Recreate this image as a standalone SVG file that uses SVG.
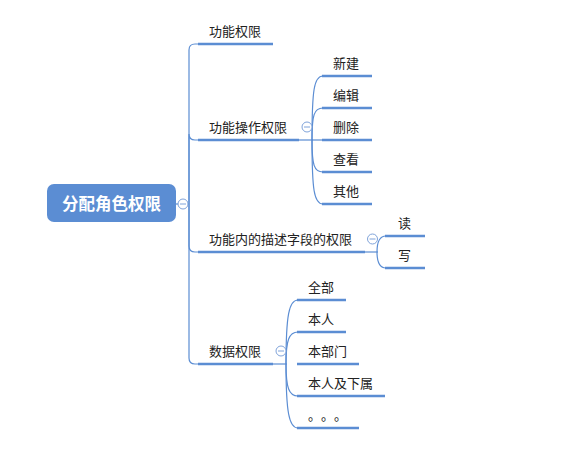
<svg xmlns="http://www.w3.org/2000/svg" width="563" height="458" viewBox="0 0 563 458">
<style>
.t{font-family:"Noto Sans CJK SC","Noto Sans",sans-serif;font-size:13px;fill:#222}
.u{stroke:#5b8dd3;stroke-width:2.5;fill:none}
.c{stroke:#5b8dd3;stroke-width:1.2;fill:none}
.col{fill:#fff;stroke:#7fa3da;stroke-width:1}
.cm{stroke:#7fa3da;stroke-width:1}
</style>
<rect width="563" height="458" fill="#fff"/>
<g id="connectors">
<path class="c" d="M176,204 H189"/>
<path class="c" d="M189,204 V50 Q189,44 195,44 H199"/>
<path class="c" d="M189,204 V134 Q189,140 195,140 H199"/>
<path class="c" d="M189,204 V246 Q189,252 195,252 H199"/>
<path class="c" d="M189,204 V358 Q189,364 195,364 H199"/>
<path class="c" d="M299,140 H313"/>
<path class="c" d="M312,140 C312,90 314,76 323,76"/>
<path class="c" d="M312,140 C312,115 314,108 323,108"/>
<path class="c" d="M312,140 H323"/>
<path class="c" d="M312,140 C312,165 314,172 323,172"/>
<path class="c" d="M312,140 C312,190 314,204 323,204"/>
<path class="c" d="M365,252 H378"/>
<path class="c" d="M377,252 C377,242 380,236 386,236"/>
<path class="c" d="M377,252 C377,262 380,268 386,268"/>
<path class="c" d="M273,364 H287"/>
<path class="c" d="M286,364 C286,315 289,300 298,300"/>
<path class="c" d="M286,364 C286,340 289,332 298,332"/>
<path class="c" d="M286,364 C286,388 289,396 298,396"/>
<path class="c" d="M286,364 C286,412 289,428 298,428"/>
</g>
<g id="root">
<rect x="47" y="184" width="129" height="38" rx="7" fill="#5b8dd3"/>
<text x="111.5" y="210" text-anchor="middle" font-family="'Noto Sans CJK SC',sans-serif" font-size="16.5" font-weight="bold" fill="#fff">分配角色权限</text>
<circle class="col" cx="183" cy="204" r="5"/><path class="cm" d="M180,204 H186"/>
</g>
<g id="n1"><path class="u" d="M198,44 H273"/><text class="t" x="209" y="36">功能权限</text></g>
<g id="n2"><path class="u" d="M198,140 H299"/><text class="t" x="209" y="132">功能操作权限</text>
<circle class="col" cx="307" cy="127" r="5"/><path class="cm" d="M304,127 H310"/></g>
<g id="n2a"><path class="u" d="M322,76 H372"/><text class="t" x="333" y="68">新建</text></g>
<g id="n2b"><path class="u" d="M322,108 H372"/><text class="t" x="333" y="100">编辑</text></g>
<g id="n2c"><path class="u" d="M322,140 H372"/><text class="t" x="333" y="132">删除</text></g>
<g id="n2d"><path class="u" d="M322,172 H372"/><text class="t" x="333" y="164">查看</text></g>
<g id="n2e"><path class="u" d="M322,204 H372"/><text class="t" x="333" y="196">其他</text></g>
<g id="n3"><path class="u" d="M198,252 H365"/><text class="t" x="209" y="244">功能内的描述字段的权限</text>
<circle class="col" cx="372.5" cy="239" r="5"/><path class="cm" d="M369.5,239 H375.5"/></g>
<g id="n3a"><path class="u" d="M385,236 H425"/><text class="t" x="398" y="228">读</text></g>
<g id="n3b"><path class="u" d="M385,268 H425"/><text class="t" x="398" y="260">写</text></g>
<g id="n4"><path class="u" d="M198,364 H273"/><text class="t" x="209" y="356">数据权限</text>
<circle class="col" cx="281" cy="351" r="5"/><path class="cm" d="M278,351 H284"/></g>
<g id="n4a"><path class="u" d="M297,300 H346"/><text class="t" x="308" y="292">全部</text></g>
<g id="n4b"><path class="u" d="M297,332 H346"/><text class="t" x="308" y="324">本人</text></g>
<g id="n4c"><path class="u" d="M297,364 H359"/><text class="t" x="308" y="356">本部门</text></g>
<g id="n4d"><path class="u" d="M297,396 H385"/><text class="t" x="308" y="388">本人及下属</text></g>
<g id="n4e"><path class="u" d="M297,428 H359"/><text class="t" x="308 321 334" y="420">。。。</text></g>
</svg>
